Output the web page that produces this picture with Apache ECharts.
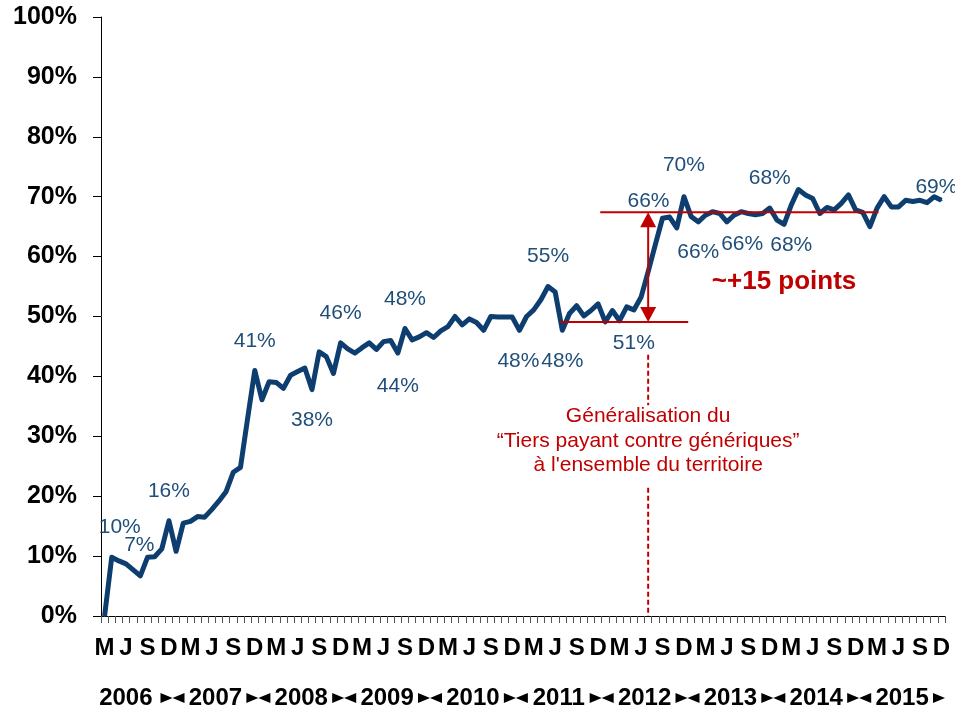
<!DOCTYPE html>
<html><head><meta charset="utf-8">
<script src="https://cdn.jsdelivr.net/npm/echarts@6/dist/echarts.min.js"></script>
<style>html,body{margin:0;padding:0;background:#fff}#c{width:955px;height:714px}</style>
</head><body><div id="c"></div>
<script>
// ---- data ----
const startYear = 2006, startMonth = 3, endYear = 2015, endMonth = 12;
const categories = [];
for (let y = startYear, m = startMonth; y < endYear || (y === endYear && m <= endMonth); ) {
  categories.push(y + '-' + String(m).padStart(2, '0'));
  m++; if (m > 12) { m = 1; y++; }
}
const monthLetters = { '03': 'M', '06': 'J', '09': 'S', '12': 'D' };
const yearLabels = ['2006', '2007', '2008', '2009', '2010', '2011', '2012', '2013', '2014', '2015'];

const shareValues = [
  0, 9.8, 9.2, 8.7, 7.7, 6.7, 9.8, 9.9, 11.2, 15.9,
  10.8, 15.5, 15.8, 16.6, 16.5, 17.8, 19.2, 20.8, 24.0, 24.8,
  33.0, 41.0, 36.1, 39.1, 39.0, 38.0, 40.2, 40.8, 41.4, 37.8,
  44.1, 43.3, 40.5, 45.6, 44.6, 43.9, 44.8, 45.6, 44.5, 45.8,
  46.0, 43.9, 48.0, 46.1, 46.6, 47.3, 46.5, 47.6, 48.3, 50.0,
  48.6, 49.6, 49.0, 47.7, 50.0, 49.9, 49.9, 49.9, 47.7, 50.0,
  51.1, 52.8, 55.0, 54.1, 47.7, 50.5, 51.8, 50.1, 51.0, 52.1,
  49.1, 51.0, 49.3, 51.6, 51.1, 53.2, 57.5, 62.0, 66.4, 66.6,
  64.8, 70.0, 66.7, 65.8, 66.9, 67.5, 67.2, 65.8, 66.9, 67.5,
  67.2, 67.0, 67.2, 68.1, 66.1, 65.4, 68.6, 71.2, 70.3, 69.7,
  67.2, 68.2, 67.8, 68.9, 70.3, 67.8, 67.4, 65.0, 68.1, 70.0,
  68.3, 68.3, 69.4, 69.2, 69.4, 69.0, 70.0, 69.4
];

const labelIndex = [1, 5, 9, 21, 29, 33, 41, 42, 58, 62, 64, 74, 78, 81, 83, 89, 93, 96, 117];
const labelText = ['10%', '7%', '16%', '41%', '38%', '46%', '44%', '48%', '48%', '55%', '48%', '51%', '66%', '70%', '66%', '66%', '68%', '68%', '69%'];

const levelAfter = 67.4, levelBefore = 49.1, eventIndex = 76;
const annotationLines = ['Généralisation du', '\u201CTiers payant contre génériques\u201D', "à l'ensemble du territoire"];
const gainText = '~+15 points';

// ---- styles ----
const FONT = "'Liberation Sans', Arial, Helvetica, sans-serif";
const LINE_COLOR = '#0d3e6f';
const LABEL_COLOR = '#1f4e79';
const RED = '#c00000';
const labelOffsets = {
  1: [8, -30], 5: [-1, -31], 9: [0, -30], 21: [0, -29], 29: [0, 31], 33: [0, -30],
  41: [0, 33], 42: [0, -29], 58: [-1, 31], 62: [0, -30], 64: [0, 31], 74: [0, 33],
  78: [-14, -17], 81: [0, -31], 83: [0, 30], 89: [1, 33], 93: [0, -30], 96: [0, 40], 117: [-5, -13]
};

const seriesData = shareValues.map((v, i) => {
  const k = labelIndex.indexOf(i);
  if (k < 0) return v;
  return { value: v, label: { show: true, formatter: labelText[k], offset: labelOffsets[i] || [0, -30] } };
});

const chart = echarts.init(document.getElementById('c'), null, { renderer: 'canvas' });
chart.setOption({
  animation: false,
  backgroundColor: '#ffffff',
  grid: { left: 101, right: 10, top: 17, bottom: 98 },
  xAxis: {
    type: 'category',
    data: categories,
    boundaryGap: true,
    axisLine: { lineStyle: { color: '#000', width: 1 } },
    axisTick: { show: true, interval: 0, length: 7, lineStyle: { color: '#555' } },
    axisLabel: {
      interval: (idx) => idx % 3 === 0,
      formatter: (val) => monthLetters[val.slice(5)] || '',
      color: '#000', fontSize: 24, fontWeight: 'bold', fontFamily: FONT, margin: 20
    },
    splitLine: { show: false }
  },
  yAxis: {
    type: 'value', min: 0, max: 100, interval: 10,
    axisLine: { show: true, lineStyle: { color: '#000', width: 1 } },
    axisTick: { show: true, length: 8, lineStyle: { color: '#000' } },
    axisLabel: { formatter: '{value}%', color: '#000', fontSize: 25, fontWeight: 'bold', fontFamily: FONT, margin: 24 },
    splitLine: { show: false }
  },
  series: [{
    type: 'line',
    data: seriesData,
    symbol: 'circle', symbolSize: 2, showSymbol: true, showAllSymbol: true,
    itemStyle: { color: LINE_COLOR },
    lineStyle: { color: LINE_COLOR, width: 5, join: 'round' },
    label: { show: false, position: 'inside', color: LABEL_COLOR, fontSize: 21, fontFamily: FONT, align: 'center', verticalAlign: 'middle' },
    emphasis: { disabled: true },
    z: 3
  }]
});

// ---- annotations computed through the chart's scales ----
function px(i, v) {
  const i0 = Math.floor(i), f = i - i0;
  const a = chart.convertToPixel({ gridIndex: 0 }, [i0, v]);
  if (f === 0) return a;
  const b = chart.convertToPixel({ gridIndex: 0 }, [i0 + 1, v]);
  return [a[0] + (b[0] - a[0]) * f, a[1]];
}
const g = [];
const ln = (p1, p2, extra) => g.push(Object.assign({ type: 'line', shape: { x1: p1[0], y1: p1[1], x2: p2[0], y2: p2[1] }, style: Object.assign({ stroke: RED, lineWidth: 2 }, extra || {}), z: 10 }));
ln(px(69.3, levelAfter), px(108.2, levelAfter));
ln(px(63.7, levelBefore), px(81.6, levelBefore));
const pTop = px(eventIndex, levelAfter), pBot = px(eventIndex, levelBefore);
ln([pTop[0], pTop[1] + 10], [pBot[0], pBot[1] - 10]);
g.push({ type: 'polygon', shape: { points: [[pTop[0], pTop[1]], [pTop[0] - 8, pTop[1] + 15], [pTop[0] + 8, pTop[1] + 15]] }, style: { fill: RED }, z: 10 });
g.push({ type: 'polygon', shape: { points: [[pBot[0], pBot[1]], [pBot[0] - 8, pBot[1] - 15], [pBot[0] + 8, pBot[1] - 15]] }, style: { fill: RED }, z: 10 });
ln(px(eventIndex, 43.6), px(eventIndex, 35.2), { lineDash: [5, 3] });
ln(px(eventIndex, 21.4), px(eventIndex, 0), { lineDash: [5, 3] });
const mid = px(eventIndex, 29.2);
annotationLines.forEach((t, k) => {
  g.push({ type: 'text', x: mid[0], y: mid[1] + (k - 1) * 24.5, z: 10,
    style: { text: t, fill: RED, font: '21px ' + FONT, align: 'center', verticalAlign: 'middle' } });
});
const gp = px(95, 55.8);
g.push({ type: 'text', x: gp[0], y: gp[1], z: 10,
  style: { text: gainText, fill: RED, font: 'bold 26px ' + FONT, align: 'center', verticalAlign: 'middle' } });

// year labels with ►◄ separators at year boundaries
const yBase = px(0, 0)[1] + 82;
const firstYearMonths = 12 - startMonth + 1;
const tri = (x, dir) => g.push({ type: 'polygon', z: 10, style: { fill: '#000' },
  shape: { points: dir > 0 ? [[x - 12, yBase - 5], [x - 12, yBase + 5], [x, yBase]] : [[x + 12, yBase - 5], [x + 12, yBase + 5], [x, yBase]] } });
yearLabels.forEach((yr, k) => {
  const startIdx = k === 0 ? 0 : firstYearMonths + (k - 1) * 12;
  const endIdx = k === 0 ? firstYearMonths : startIdx + 12;
  const left = px(startIdx - 0.5, 0)[0], right = px(endIdx - 0.5, 0)[0];
  tri(right, 1);
  if (k > 0) tri(left, -1);
  if (k === 0) {
    g.push({ type: 'text', x: right - 20, y: yBase, z: 10,
      style: { text: yr, fill: '#000', font: 'bold 24px ' + FONT, align: 'right', verticalAlign: 'middle' } });
  } else {
    g.push({ type: 'text', x: (left + right) / 2, y: yBase, z: 10,
      style: { text: yr, fill: '#000', font: 'bold 24px ' + FONT, align: 'center', verticalAlign: 'middle' } });
  }
});
chart.setOption({ graphic: g });
</script>
</body></html>
